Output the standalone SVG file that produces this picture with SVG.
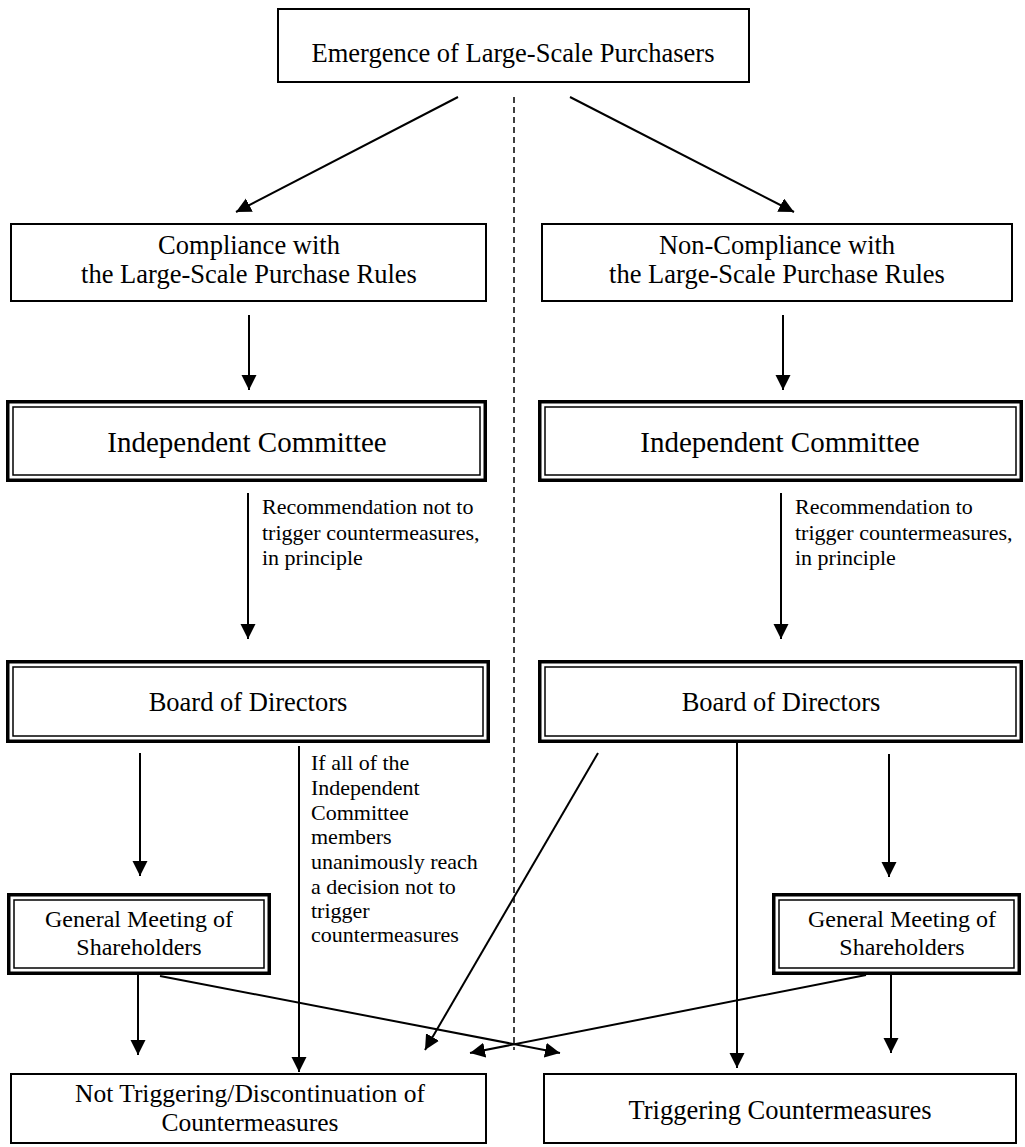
<svg xmlns="http://www.w3.org/2000/svg" width="1025" height="1147" viewBox="0 0 1025 1147">
<defs>
<marker id="arr" markerUnits="userSpaceOnUse" markerWidth="16" markerHeight="16" viewBox="0 0 16 16" refX="15" refY="7.5" orient="auto">
<path d="M0,0 L15,7.5 L0,15 z" fill="#000"/>
</marker>
<style>
.box{fill:#fff;stroke:#000;stroke-width:2}
.outer{fill:#fff;stroke:#000;stroke-width:3.5}
.inner{fill:none;stroke:#000;stroke-width:1.5}
.t{font-family:"Liberation Serif","Times New Roman",serif;fill:#000;text-anchor:middle}
.l{font-family:"Liberation Serif","Times New Roman",serif;fill:#000;font-size:22px}
.c{fill:none;stroke:#000;stroke-width:2;marker-end:url(#arr)}
.d{fill:none;stroke:#000;stroke-width:1.5;stroke-dasharray:6 4}
</style>
</defs>
<rect width="1025" height="1147" fill="#fff"/>
<g id="connectors">
<line class="d" x1="514" y1="97" x2="514" y2="1050"/>
<line class="c" x1="458" y1="97" x2="236" y2="212"/>
<line class="c" x1="570" y1="97" x2="794" y2="212"/>
<line class="c" x1="249" y1="315" x2="249" y2="390"/>
<line class="c" x1="783" y1="315" x2="783" y2="390"/>
<line class="c" x1="248" y1="493" x2="248" y2="639"/>
<line class="c" x1="781" y1="493" x2="781" y2="639"/>
<line class="c" x1="140" y1="753" x2="140" y2="876"/>
<line class="c" x1="299" y1="746" x2="299" y2="1072"/>
<line class="c" x1="889" y1="754" x2="889" y2="877"/>
<line class="c" x1="598" y1="753" x2="425" y2="1050"/>
<line class="c" x1="737" y1="741" x2="737" y2="1068"/>
<line class="c" x1="138" y1="975" x2="138" y2="1055"/>
<line class="c" x1="160" y1="976" x2="560" y2="1053"/>
<line class="c" x1="866" y1="975" x2="470" y2="1053"/>
<line class="c" x1="891" y1="975" x2="891" y2="1053"/>
</g>
<g id="label-rec-not">
<text class="l" x="262" y="514">Recommendation not to</text>
<text class="l" x="262" y="540">trigger countermeasures,</text>
<text class="l" x="262" y="565">in principle</text>
</g>
<g id="label-rec">
<text class="l" x="795" y="514">Recommendation to</text>
<text class="l" x="795" y="540">trigger countermeasures,</text>
<text class="l" x="795" y="565">in principle</text>
</g>
<g id="label-unanimous">
<text class="l" x="311" y="770">If all of the</text>
<text class="l" x="311" y="795">Independent</text>
<text class="l" x="311" y="820">Committee</text>
<text class="l" x="311" y="844">members</text>
<text class="l" x="311" y="869">unanimously reach</text>
<text class="l" x="311" y="894">a decision not to</text>
<text class="l" x="311" y="918">trigger</text>
<text class="l" x="311" y="942">countermeasures</text>
</g>
<g id="emergence">
<rect class="box" x="278" y="9" width="471" height="73"/>
<text class="t" x="513" y="62" font-size="26.5">Emergence of Large-Scale Purchasers</text>
</g>
<g id="compliance">
<rect class="box" x="11" y="224" width="475" height="77"/>
<text class="t" x="249" y="254" font-size="26.5">Compliance with</text>
<text class="t" x="249" y="283" font-size="26.5">the Large-Scale Purchase Rules</text>
</g>
<g id="noncompliance">
<rect class="box" x="542" y="224" width="470" height="77"/>
<text class="t" x="777" y="254" font-size="26.5">Non-Compliance with</text>
<text class="t" x="777" y="283" font-size="26.5">the Large-Scale Purchase Rules</text>
</g>
<g id="ic-left">
<rect class="outer" x="7.75" y="401.75" width="477.5" height="78.5"/>
<rect class="inner" x="13" y="407" width="467" height="68"/>
<text class="t" x="247" y="452" font-size="29">Independent Committee</text>
</g>
<g id="ic-right">
<rect class="outer" x="539.75" y="401.75" width="481.5" height="78.5"/>
<rect class="inner" x="545" y="407" width="471" height="68"/>
<text class="t" x="780" y="452" font-size="29">Independent Committee</text>
</g>
<g id="board-left">
<rect class="outer" x="7.75" y="661.75" width="480.5" height="79.5"/>
<rect class="inner" x="13" y="667" width="470" height="69"/>
<text class="t" x="248" y="711" font-size="26.5">Board of Directors</text>
</g>
<g id="board-right">
<rect class="outer" x="539.75" y="661.75" width="481.5" height="79.5"/>
<rect class="inner" x="545" y="667" width="471" height="69"/>
<text class="t" x="781" y="711" font-size="26.5">Board of Directors</text>
</g>
<g id="gm-left">
<rect class="outer" x="8.75" y="894.75" width="260.5" height="78.5"/>
<rect class="inner" x="14" y="900" width="250" height="68"/>
<text class="t" x="139" y="927" font-size="24">General Meeting of</text>
<text class="t" x="139" y="955" font-size="24">Shareholders</text>
</g>
<g id="gm-right">
<rect class="outer" x="773.75" y="894.75" width="245.5" height="78.5"/>
<rect class="inner" x="779" y="900" width="235" height="68"/>
<text class="t" x="902" y="927" font-size="24">General Meeting of</text>
<text class="t" x="902" y="955" font-size="24">Shareholders</text>
</g>
<g id="not-triggering">
<rect class="box" x="11" y="1074" width="475" height="69"/>
<text class="t" x="250" y="1102" font-size="25.5">Not Triggering/Discontinuation of</text>
<text class="t" x="250" y="1131" font-size="25.5">Countermeasures</text>
</g>
<g id="triggering">
<rect class="box" x="544" y="1074" width="472" height="69"/>
<text class="t" x="780" y="1119" font-size="26.5">Triggering Countermeasures</text>
</g>
</svg>
